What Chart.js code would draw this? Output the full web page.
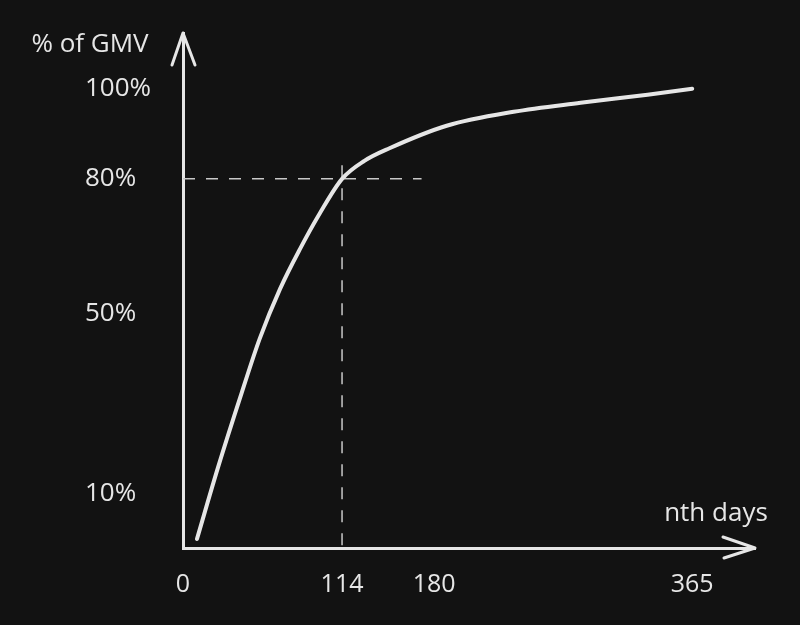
<!DOCTYPE html>
<html>
<head>
<meta charset="utf-8">
<script src="https://cdn.jsdelivr.net/npm/chart.js@4"></script>
<style>
  html, body { margin: 0; padding: 0; background: #121212; }
  #wrap { width: 800px; height: 625px; position: relative; }
</style>
</head>
<body>
<div id="wrap"><canvas id="gmvChart"></canvas></div>
<script>
// --- Data ---
const curveDays = [10, 25, 42, 55, 69.5, 84, 98, 114, 130, 148, 189, 237, 285, 333, 365];
const curvePct  = [0, 15.8, 32.4, 44.5, 55.5, 64.5, 72.3, 80, 84, 86.8, 91.8, 94.9, 96.9, 98.7, 100];

const xTicks = [0, 114, 180, 365];
const yTicks = [10, 50, 80, 100];

// reference lines marking the 80% point
const markDay = 114;
const markPct = 80;
const hLineEnd = 171;      // horizontal dashed line stops here (days)
const vLineTop = 83;       // vertical dashed line top (%)
const vLineBottom = -3.6;  // runs just past the axis

const xTitle = "nth days";
const yTitle = "% of GMV";

const ink = "#e6e6e6";
const FONT = "'Open Sans', 'DejaVu Sans', sans-serif";

// axis arrowheads + axis titles
const sketchAxes = {
    id: "sketchAxes",
    afterDraw(chart) {
        const { ctx, chartArea: a } = chart;
        ctx.save();
        ctx.strokeStyle = ink;
        ctx.lineWidth = 3;
        ctx.lineCap = "round";
        ctx.lineJoin = "round";

        // y arrow
        ctx.beginPath();
        ctx.moveTo(a.left - 11, a.top + 32);
        ctx.lineTo(a.left, a.top);
        ctx.lineTo(a.left + 12, a.top + 32);
        ctx.stroke();

        // x arrow
        ctx.beginPath();
        ctx.moveTo(a.right - 32, a.bottom - 11);
        ctx.lineTo(a.right, a.bottom);
        ctx.lineTo(a.right - 31, a.bottom + 10);
        ctx.stroke();

        ctx.fillStyle = ink;
        ctx.font = "26px " + FONT;
        ctx.textAlign = "center";
        ctx.textBaseline = "middle";
        ctx.fillText(yTitle, 90, 45);
        ctx.fillText(xTitle, 716, 514);
        ctx.restore();
    }
};

const ctx = document.getElementById("gmvChart").getContext("2d");

new Chart(ctx, {
    type: "line",
    data: {
        datasets: [
            {
                label: "GMV",
                data: curveDays.map((d, i) => ({ x: d, y: curvePct[i] })),
                borderColor: ink,
                borderWidth: 4,
                cubicInterpolationMode: "monotone",
                borderCapStyle: "round",
                pointRadius: 0,
                fill: false
            },
            {
                label: "80% line",
                data: [{ x: 0, y: markPct }, { x: hLineEnd, y: markPct }],
                borderColor: "#c8c8c8",
                borderWidth: 1.5,
                borderDash: [12, 11],
                pointRadius: 0
            },
            {
                label: "114 days line",
                data: [{ x: markDay, y: vLineTop }, { x: markDay, y: vLineBottom }],
                borderColor: "#c8c8c8",
                borderWidth: 1.5,
                borderDash: [12, 11],
                pointRadius: 0,
                clip: false
            }
        ]
    },
    options: {
        responsive: true,
        maintainAspectRatio: false,
        animation: false,
        layout: { padding: { left: 85, right: 45, top: 33, bottom: 0 } },
        plugins: {
            legend: { display: false },
            tooltip: { enabled: false }
        },
        scales: {
            x: {
                type: "linear",
                min: 0,
                max: 410,
                afterBuildTicks: s => { s.ticks = xTicks.map(v => ({ value: v })); },
                afterFit: s => { s.height = 77; },
                grid: { display: false, drawTicks: false },
                border: { display: true, color: ink, width: 3 },
                ticks: {
                    color: ink,
                    padding: 22,
                    maxRotation: 0,
                    autoSkip: false,
                    font: { family: FONT, size: 25 }
                }
            },
            y: {
                min: -2,
                max: 112.4,
                afterBuildTicks: s => { s.ticks = yTicks.map(v => ({ value: v })); },
                afterFit: s => { s.width = 98; },
                grid: { display: false, drawTicks: false },
                border: { display: true, color: ink, width: 3 },
                ticks: {
                    color: ink,
                    crossAlign: "far",
                    autoSkip: false,
                    font: { family: FONT, size: 26 },
                    callback: v => v + "%"
                }
            }
        }
    },
    plugins: [sketchAxes]
});
</script>
</body>
</html>
